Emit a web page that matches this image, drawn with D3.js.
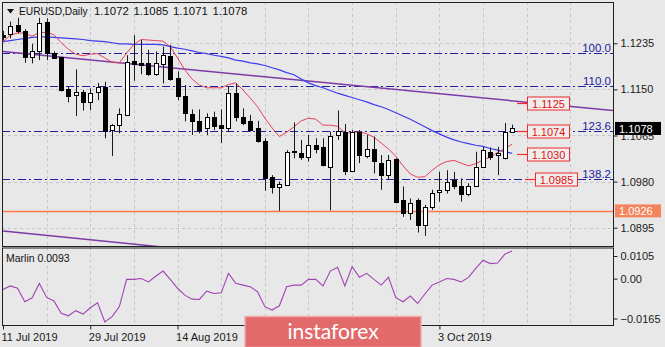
<!DOCTYPE html>
<html><head><meta charset="utf-8">
<script src="https://cdn.jsdelivr.net/npm/d3@7"></script>
<style>
html,body{margin:0;padding:0;background:#e8e8e8;overflow:hidden;}
svg{display:block;font-family:"Liberation Sans",Arial,sans-serif;}
</style></head><body>
<svg id="chart" width="665" height="347"></svg>
<script>
// EURUSD daily bars, 11 Jul 2019 - 17 Oct 2019
const dates = ["2019-07-11","2019-07-12","2019-07-15","2019-07-16","2019-07-17","2019-07-18","2019-07-19","2019-07-22","2019-07-23","2019-07-24","2019-07-25","2019-07-26","2019-07-29","2019-07-30","2019-07-31","2019-08-01","2019-08-02","2019-08-05","2019-08-06","2019-08-07","2019-08-08","2019-08-09","2019-08-12","2019-08-13","2019-08-14","2019-08-15","2019-08-16","2019-08-19","2019-08-20","2019-08-21","2019-08-22","2019-08-23","2019-08-26","2019-08-27","2019-08-28","2019-08-29","2019-08-30","2019-09-02","2019-09-03","2019-09-04","2019-09-05","2019-09-06","2019-09-09","2019-09-10","2019-09-11","2019-09-12","2019-09-13","2019-09-16","2019-09-17","2019-09-18","2019-09-19","2019-09-20","2019-09-23","2019-09-24","2019-09-25","2019-09-26","2019-09-27","2019-09-30","2019-10-01","2019-10-02","2019-10-03","2019-10-04","2019-10-07","2019-10-08","2019-10-09","2019-10-10","2019-10-11","2019-10-14","2019-10-15","2019-10-16","2019-10-17"];

const open  = [1.1250,1.1253,1.1269,1.1258,1.1209,1.1221,1.1275,1.1217,1.1209,1.1151,1.1140,1.1146,1.1126,1.1145,1.1154,1.1076,1.1084,1.1103,1.1202,1.1198,1.1199,1.1178,1.1197,1.1212,1.1171,1.1138,1.1105,1.1092,1.1078,1.1099,1.1084,1.1078,1.1143,1.1100,1.1091,1.1078,1.1055,1.0989,1.0970,1.0974,1.1036,1.1033,1.1025,1.1047,1.1044,1.1007,1.1065,1.1072,1.1000,1.1072,1.1028,1.1041,1.1015,1.0992,1.1021,1.0946,1.0922,1.0946,1.0900,1.0933,1.0960,1.0965,1.0983,1.0972,1.0957,1.0971,1.1006,1.1035,1.1029,1.1023,1.1072];
const high  = [1.1258,1.1275,1.1282,1.1261,1.1234,1.1282,1.1281,1.1220,1.1210,1.1155,1.1187,1.1149,1.1152,1.1162,1.1164,1.1086,1.1115,1.1213,1.1250,1.1241,1.1223,1.1220,1.1229,1.1232,1.1183,1.1158,1.1113,1.1113,1.1106,1.1109,1.1113,1.1156,1.1161,1.1115,1.1103,1.1092,1.1060,1.0992,1.0980,1.1038,1.1089,1.1057,1.1066,1.1060,1.1060,1.1072,1.1111,1.1086,1.1075,1.1075,1.1066,1.1063,1.1029,1.1029,1.1023,1.0971,1.0949,1.0949,1.0937,1.0965,1.0998,1.1001,1.0998,1.0986,1.0977,1.1035,1.1044,1.1043,1.1044,1.1088,1.1085];
const low   = [1.1240,1.1244,1.1253,1.1199,1.1198,1.1204,1.1204,1.1206,1.1146,1.1126,1.1101,1.1111,1.1112,1.1130,1.1060,1.1027,1.1069,1.1102,1.1166,1.1178,1.1175,1.1175,1.1161,1.1166,1.1130,1.1091,1.1066,1.1069,1.1066,1.1075,1.1051,1.1072,1.1091,1.1084,1.1072,1.1052,1.0963,1.0958,1.0926,1.0972,1.1023,1.1020,1.1017,1.1032,1.1008,1.0927,1.1057,1.0992,1.0998,1.1014,1.1023,1.0995,1.0965,1.0983,1.0940,1.0915,1.0909,1.0886,1.0880,1.0928,1.0943,1.0958,1.0966,1.0943,1.0953,1.0970,1.1005,1.1020,1.0992,1.1021,1.1071];
const close = [1.1247,1.1267,1.1258,1.1209,1.1221,1.1273,1.1218,1.1207,1.1149,1.1138,1.1146,1.1127,1.1144,1.1155,1.1074,1.1084,1.1105,1.1200,1.1196,1.1195,1.1178,1.1199,1.1213,1.1169,1.1138,1.1107,1.1091,1.1076,1.1099,1.1083,1.1078,1.1143,1.1100,1.1088,1.1075,1.1055,1.0986,1.0970,1.0975,1.1035,1.1035,1.1026,1.1047,1.1041,1.1011,1.1064,1.1073,1.1000,1.1072,1.1029,1.1040,1.1018,1.0992,1.1020,1.0943,1.0923,1.0940,1.0900,1.0933,1.0959,1.0965,1.0980,1.0971,1.0958,1.0971,1.1007,1.1038,1.1026,1.1033,1.1072,1.1078];

// moving averages (fast = red, slow = blue)
const maFast = [1.1238,1.1250,1.1254,1.1254,1.1248,1.1255,1.1255,1.1251,1.1236,1.1224,1.1215,1.1212,1.1215,1.1216,1.1208,1.1200,1.1199,1.1217,1.1233,1.1242,1.1241,1.1240,1.1239,1.1229,1.1208,1.1186,1.1169,1.1158,1.1153,1.1153,1.1153,1.1159,1.1162,1.1149,1.1134,1.1118,1.1097,1.1079,1.1063,1.1071,1.1081,1.1092,1.1097,1.1095,1.1084,1.1084,1.1082,1.1070,1.1070,1.1072,1.1068,1.1062,1.1051,1.1040,1.1027,1.1009,1.0994,1.0988,1.0989,1.1001,1.1011,1.1017,1.1019,1.1014,1.1009,1.1013,1.1020,1.1025,1.1034,1.1041,1.1049];
const maSlow = [1.1238,1.1240,1.1242,1.1244,1.1246,1.1247,1.1247,1.1246,1.1245,1.1244,1.1243,1.1242,1.1240,1.1239,1.1238,1.1236,1.1234,1.1234,1.1233,1.1233,1.1233,1.1233,1.1232,1.1229,1.1226,1.1224,1.1221,1.1218,1.1216,1.1213,1.1211,1.1208,1.1204,1.1202,1.1199,1.1197,1.1194,1.1190,1.1186,1.1181,1.1177,1.1169,1.1162,1.1157,1.1153,1.1148,1.1143,1.1139,1.1135,1.1131,1.1127,1.1122,1.1118,1.1113,1.1107,1.1101,1.1095,1.1088,1.1081,1.1074,1.1068,1.1062,1.1057,1.1053,1.1050,1.1047,1.1045,1.1041,1.1038,1.1035,1.1032];

// Marlin oscillator
const marlin = [-0.0041,-0.0029,-0.0037,-0.0084,-0.0070,-0.0020,-0.0069,-0.0081,-0.0124,-0.0133,-0.0115,-0.0127,-0.0105,-0.0088,-0.0154,-0.0136,-0.0101,-0.0006,-0.0006,-0.0003,-0.0015,0.0005,0.0023,-0.0006,-0.0037,-0.0061,-0.0075,-0.0076,-0.0047,-0.0055,-0.0053,0.0015,-0.0020,-0.0026,-0.0032,-0.0049,-0.0101,-0.0113,-0.0098,-0.0032,-0.0026,-0.0026,-0.0006,-0.0006,-0.0029,0.0023,0.0036,-0.0029,0.0038,0.0001,0.0015,-0.0006,-0.0026,0.0001,-0.0070,-0.0084,-0.0064,-0.0090,-0.0057,-0.0026,-0.0015,-0.0003,-0.0006,-0.0015,0.0001,0.0032,0.0061,0.0049,0.0051,0.0082,0.0093];

// axis ticks
const priceTicks = [1.1235, 1.1150, 1.1065, 1.0980, 1.0895];
const marlinTicks = [0.0105, 0.00, -0.0165];
const dateTickIdx = [0, 12, 24, 60];
const dateTickLabels = ["11 Jul 2019","29 Jul 2019","14 Aug 2019","3 Oct 2019"];

// Fibonacci levels
const fibNames  = ["100.0","110.0","123.6","138.2","161.8"];
const fibPrices = [1.1218, 1.1157, 1.1074, 1.0985, 1.0841];

// price labels, support line and trendlines
const priceLabels = [1.1125, 1.1074, 1.1030, 1.0985];
const supportLevel = 1.0926;
const trendUpper = [[0, 1.1220], [70, 1.1129]];
const trendLower = [[0, 1.0889], [20, 1.0862]];

const symbol = "EURUSD,Daily";
const ohlcText = "1.1072 1.1085 1.1071 1.1078";

const svg = d3.select("#chart");
const P = {l: 2, r: 613, t: 2, b: 246};
const S = {t: 247.5, b: 325};

const x = d3.scaleLinear().domain([0, 60]).range([3, 439.4]);
const y = d3.scaleLinear().domain([1.0895, 1.1235]).range([227.7, 43.3]);
const ym = d3.scaleLinear().domain([-0.0165, 0.0105]).range([S.b, S.t]);

const px = v => Math.round(v) + 0.5;

const defs = svg.append("defs");
defs.append("clipPath").attr("id", "clipMain").append("rect")
  .attr("x", P.l).attr("y", P.t).attr("width", P.r - P.l).attr("height", P.b - P.t);
defs.append("clipPath").attr("id", "clipSub").append("rect")
  .attr("x", P.l).attr("y", S.t).attr("width", P.r - P.l).attr("height", S.b - S.t);

svg.append("rect").attr("width", 665).attr("height", 347).attr("fill", "#e8e8e8");

const main = svg.append("g").attr("clip-path", "url(#clipMain)");
const sub = svg.append("g").attr("clip-path", "url(#clipSub)");

// grid
const gridIdx = d3.range(0, 85, 6).filter(i => x(i) < P.r - 2 && i > 0);
[[main, P.t, P.b], [sub, S.t, S.b]].forEach(([g, t, b]) => {
  g.append("g").selectAll("line").data(gridIdx).join("line")
    .attr("x1", d => px(x(d))).attr("x2", d => px(x(d)))
    .attr("y1", t).attr("y2", b)
    .attr("stroke", "#c6c6c6").attr("stroke-dasharray", "3,3");
});
main.append("g").selectAll("line").data(priceTicks).join("line")
  .attr("x1", P.l).attr("x2", P.r)
  .attr("y1", d => px(y(d))).attr("y2", d => px(y(d)))
  .attr("stroke", "#c6c6c6").attr("stroke-dasharray", "3,3");

// support line
main.append("line").attr("x1", P.l).attr("x2", P.r)
  .attr("y1", px(y(supportLevel))).attr("y2", px(y(supportLevel)))
  .attr("stroke", "#ff7a48").attr("stroke-width", 1.4);

// Fibonacci levels
const fib = main.append("g");
fib.selectAll("line").data(fibPrices).join("line")
  .attr("x1", P.l).attr("x2", P.r)
  .attr("y1", d => px(y(d))).attr("y2", d => px(y(d)))
  .attr("stroke", "#20209c").attr("stroke-dasharray", "8,3,2,3");
fib.selectAll("text").data(fibPrices).join("text")
  .attr("x", P.r - 2).attr("y", d => y(d) - 1)
  .attr("text-anchor", "end").attr("font-size", 11.5).attr("fill", "#20209c")
  .text((d, i) => fibNames[i]);

// trendlines (extended to the right edge)
function ray(pts) {
  const [[i0, p0], [i1, p1]] = pts;
  const slope = (p1 - p0) / (i1 - i0);
  const iEnd = x.invert(P.r);
  return [[x(i0), y(p0)], [P.r, y(p0 + slope * (iEnd - i0))]];
}
[trendUpper, trendLower].forEach(t => {
  const [[a, b], [c, d]] = ray(t);
  main.append("line").attr("x1", a).attr("y1", b).attr("x2", c).attr("y2", d)
    .attr("stroke", "#7d3aa6").attr("stroke-width", 1.5);
});

// moving averages
const line = d3.line().x((d, i) => x(i)).y(d => y(d));
main.append("path").datum(maSlow).attr("d", line)
  .attr("fill", "none").attr("stroke", "#3c3cf0").attr("stroke-width", 1.2);
main.append("path").datum(maFast).attr("d", line)
  .attr("fill", "none").attr("stroke", "#e8405c").attr("stroke-width", 1);

// candles
const candles = main.append("g");
dates.forEach((dt, i) => {
  const cx = px(x(i));
  const up = close[i] >= open[i];
  candles.append("line").attr("x1", cx).attr("x2", cx)
    .attr("y1", y(high[i])).attr("y2", y(low[i]))
    .attr("stroke", "#1a1a1a");
  const top = Math.round(y(Math.max(open[i], close[i])));
  const bot = Math.round(y(Math.min(open[i], close[i])));
  candles.append("rect")
    .attr("x", cx - 2).attr("y", top + 0.5)
    .attr("width", 4).attr("height", Math.max(1, bot - top))
    .attr("fill", up ? "#ffffff" : "#000000").attr("stroke", "#000");
});

// price label objects
const labX = [527, 527, 527, 535];
const labs = main.append("g");
priceLabels.forEach((p, i) => {
  const yy = px(y(p));
  labs.append("line").attr("x1", labX[i] - 10).attr("x2", labX[i])
    .attr("y1", yy).attr("y2", yy).attr("stroke", "#ee3030").attr("stroke-width", 1.2);
  labs.append("rect").attr("x", labX[i] + 0.5).attr("y", yy - 6.5)
    .attr("width", 42).attr("height", 13)
    .attr("fill", "#f0eded").attr("stroke", "#ee2a2a");
  labs.append("text").attr("x", labX[i] + 21.5).attr("y", yy + 4)
    .attr("text-anchor", "middle").attr("font-size", 11).attr("fill", "#e01010")
    .text(d3.format(".4f")(p));
});

// Marlin line
sub.append("path").datum(marlin)
  .attr("d", d3.line().x((d, i) => x(i)).y(d => ym(d)))
  .attr("fill", "none").attr("stroke", "#a243b4").attr("stroke-width", 1.1);

// frames
svg.append("rect").attr("x", P.l + 0.5).attr("y", P.t + 0.5)
  .attr("width", P.r - P.l).attr("height", P.b - P.t)
  .attr("fill", "none").attr("stroke", "#202020");
svg.append("rect").attr("x", P.l + 0.5).attr("y", S.t + 0.5)
  .attr("width", P.r - P.l).attr("height", S.b - S.t)
  .attr("fill", "none").attr("stroke", "#202020");

// price axis
const yAxis = svg.append("g").attr("transform", `translate(${P.r + 0.5},0)`)
  .call(d3.axisRight(y).tickValues(priceTicks).tickFormat(d3.format(".4f")).tickSize(4).tickPadding(3));
yAxis.select(".domain").remove();
yAxis.selectAll("text").attr("font-size", 11).attr("fill", "#1a1a1a")
  .attr("font-family", "Liberation Sans, Arial, sans-serif");
yAxis.selectAll("line").attr("stroke", "#202020");

// Marlin axis: the window's max and min labels sit just inside its edges
const mAxis = svg.append("g").attr("transform", `translate(${P.r + 0.5},0)`)
  .call(d3.axisRight(ym).tickValues(marlinTicks)
    .tickFormat(d => d === 0 ? "0.00" : d3.format(".4f")(d)).tickSize(4).tickPadding(3));
mAxis.select(".domain").remove();
mAxis.selectAll(".tick").attr("transform", d => {
  const inset = d === marlinTicks[0] ? 9 : d === marlinTicks[2] ? -6 : 1.5;
  return `translate(0,${ym(d) + inset})`;
});
mAxis.selectAll("text").attr("font-size", 11).attr("fill", "#1a1a1a")
  .attr("font-family", "Liberation Sans, Arial, sans-serif");
mAxis.selectAll("line").attr("stroke", "#202020");

// date axis
const xAxis = svg.append("g").attr("transform", `translate(0,${S.b + 0.5})`)
  .call(d3.axisBottom(x).tickValues(dateTickIdx)
    .tickFormat((d, i) => dateTickLabels[i]).tickSize(4).tickPadding(4));
xAxis.select(".domain").remove();
xAxis.selectAll("text").attr("text-anchor", "start").attr("dx", -2)
  .attr("font-size", 11).attr("fill", "#1a1a1a")
  .attr("font-family", "Liberation Sans, Arial, sans-serif");
xAxis.selectAll("line").attr("stroke", "#202020");

// current price and support tags
function tag(val, bg, fg) {
  const yy = y(val);
  svg.append("rect").attr("x", P.r + 2).attr("y", yy - 6.5).attr("width", 46).attr("height", 13).attr("fill", bg);
  svg.append("text").attr("x", P.r + 6).attr("y", yy + 4.2)
    .attr("font-size", 11).attr("fill", fg).text(d3.format(".4f")(val));
}
tag(supportLevel, "#f4845c", "#ffffff");
tag(close[close.length - 1], "#000000", "#ffffff");

// title
svg.append("path").attr("d", "M7,9 L14,9 L10.5,13.5 Z").attr("fill", "#111");
svg.append("text").attr("x", 19).attr("y", 15).attr("font-size", 10.2).attr("fill", "#111").text(symbol);
svg.append("text").attr("x", 94).attr("y", 15).attr("font-size", 11.4).attr("fill", "#111")
  .attr("word-spacing", 1.5).text(ohlcText);

// indicator caption
svg.append("text").attr("x", 6).attr("y", 262).attr("font-size", 10.5).attr("fill", "#111")
  .text("Marlin " + d3.format(".4f")(marlin[marlin.length - 1]));

// watermark
svg.append("rect").attr("x", 245).attr("y", 316.5).attr("width", 176).attr("height", 31)
  .attr("fill", "#e26a6a").attr("stroke", "#f2a8a8").attr("stroke-width", 1.5);
svg.append("text").attr("x", 333).attr("y", 339).attr("text-anchor", "middle")
  .attr("font-family", "Lato, 'Open Sans', sans-serif").attr("font-size", 21).attr("fill", "#ffffff")
  .text("instaforex");
</script>
</body></html>
